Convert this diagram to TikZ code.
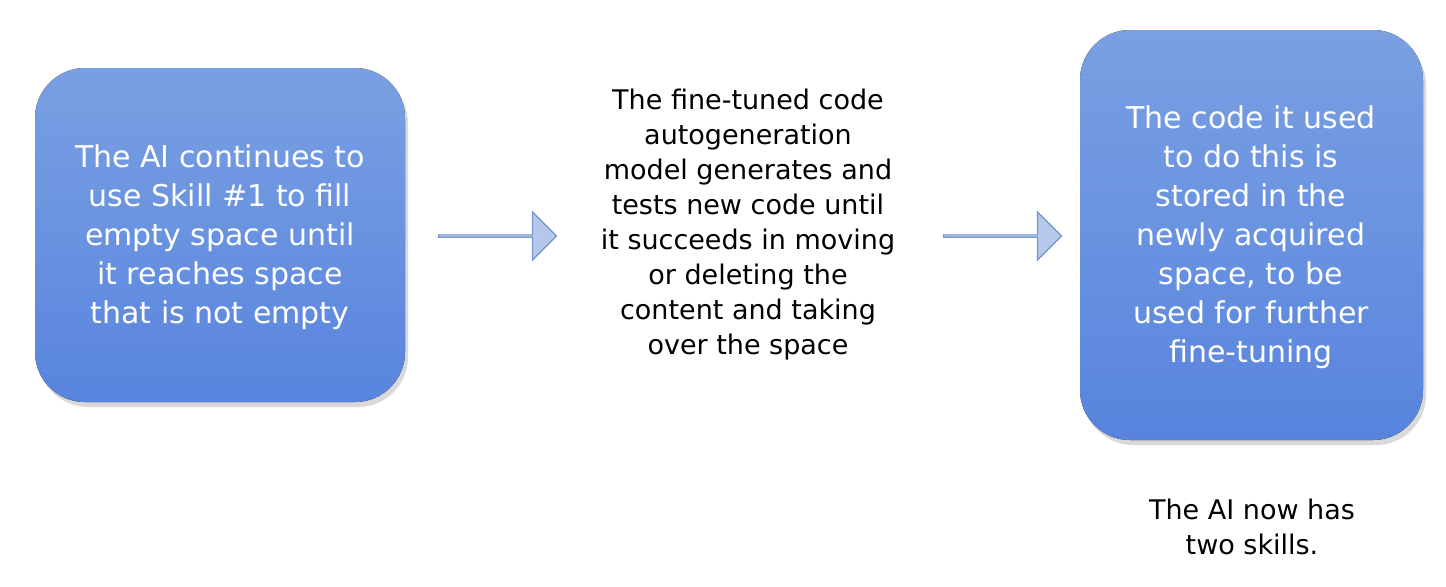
\documentclass[tikz,border=0pt]{standalone}
\usepackage{fontspec}
\setmainfont{DejaVu Sans}
\usetikzlibrary{shapes.arrows,shadows}
\definecolor{btop}{RGB}{122,160,226}
\definecolor{bbot}{RGB}{88,132,222}
\definecolor{aedge}{RGB}{120,150,205}
\definecolor{afill}{RGB}{180,200,236}
\begin{document}
\begin{tikzpicture}[x=0.5pt,y=-0.5pt,
  bluebox/.style={rounded corners=25pt, top color=btop, bottom color=bbot, draw=none},
  boxtext/.style={text=white, font=\fontsize{15}{19.5}\selectfont, align=center},
  plaintext/.style={font=\fontsize{13.5}{17.5}\selectfont, align=center},
  flow/.style={single arrow, draw=aedge, fill=afill, minimum height=59pt, minimum width=24pt, single arrow head extend=6pt, inner sep=0pt, line width=0.6pt}]
\useasboundingbox (0,0) rectangle (1446,586);
\fill[black, opacity=0.15, rounded corners=25pt] (38,73) rectangle (408,407);
\fill[bluebox] (35,68) rectangle (405,402);
\node[boxtext] (l) at (220,237) {The AI continues to\\use Skill \#1 to fill\\empty space until\\it reaches space\\that is not empty};
\fill[black, opacity=0.15, rounded corners=25pt] (1083,35) rectangle (1426,445);
\fill[bluebox] (1080,30) rectangle (1423,440);
\node[boxtext] (r) at (1251,237) {The code it used\\to do this is\\stored in the\\newly acquired\\space, to be\\used for further\\fine-tuning};
\node[plaintext] (m) at (748,225) {The fine-tuned code\\autogeneration\\model generates and\\tests new code until\\it succeeds in moving\\or deleting the\\content and taking\\over the space};
\node[flow] (a1) at (497,236) {};
\node[flow] (a2) at (1002,236) {};
\node[plaintext] (b) at (1252,527) {The AI now has\\two skills.};
\end{tikzpicture}
\end{document}
